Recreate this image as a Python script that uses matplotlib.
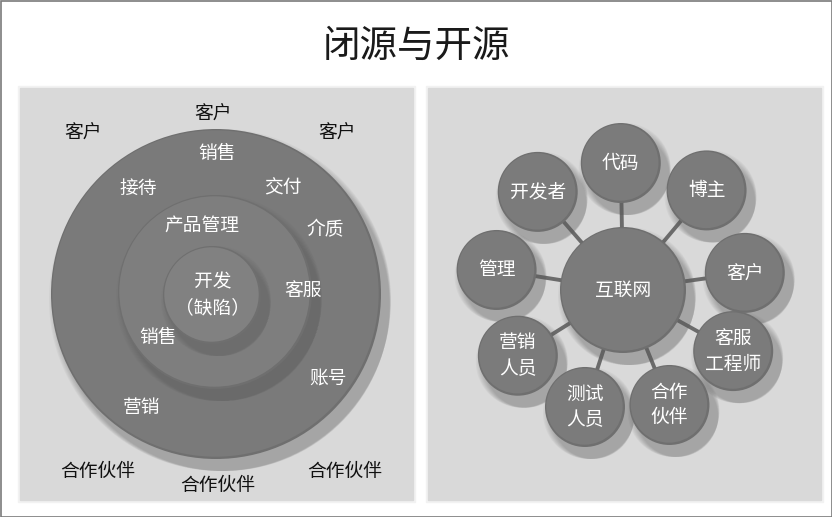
import numpy as np
import matplotlib.pyplot as plt
from matplotlib.patches import Circle, Rectangle

plt.rcParams['font.family'] = ['Noto Sans CJK SC', 'DejaVu Sans']

title = "闭源与开源"

# left diagram: rings (center x, center y, radius) in pixels
rings = [(216, 294, 165), (215, 292, 97), (212, 295, 49)]
outer_labels = ["客户", "客户", "客户", "合作伙伴", "合作伙伴", "合作伙伴"]
outer_pos = [(83, 132), (213, 113), (337, 132), (98, 472), (218, 485), (345, 472)]
ring_labels = ["销售", "接待", "交付", "产品管理", "介质", "开发\n（缺陷）",
               "客服", "销售", "账号", "营销"]
ring_pos = [(217, 153), (138, 188), (283, 188), (202, 225), (325, 230),
            (213, 295), (303, 290), (158, 337), (328, 378), (142, 408)]

# right diagram: hub and satellites
hub_label = "互联网"
sat_labels = ["代码", "博主", "客户", "客服\n工程师", "合作\n伙伴",
              "测试\n人员", "营销\n人员", "管理", "开发者"]
sat_angles = [91, 50, 8, -29, -68, -108, -148, 171, 131]
sat_dist = [127, 130, 123, 126, 124, 123, 124, 128, 130]

W, H = 832, 517
fig = plt.figure(figsize=(W / 100, H / 100), dpi=100)
ax = fig.add_axes([0, 0, 1, 1])
ax.set_xlim(0, W)
ax.set_ylim(H, 0)
ax.axis("off")

ax.add_patch(Rectangle((0.5, 0.5), W - 1, H - 1, fill=False, ec="#7a7a7a", lw=1.2))
ax.text(416, 46, title, fontsize=27, ha="center", va="center", color="#1a1a1a")

# panels
for x0 in (20, 428):
    ax.add_patch(Rectangle((x0 - 2, 86), 397, 416, color="#f2f2f2", zorder=1))
    ax.add_patch(Rectangle((x0, 88), 393, 412, color="#d9d9d9", zorder=1))


def ball(cx, cy, r, z, face="#7b7b7b", rim="#6f6f6f"):
    # soft shadow
    for k in range(8):
        ax.add_patch(Circle((cx + 4 + k * 0.6, cy + 6 + k * 0.8), r + 6 - k * 0.8,
                            color="#5a5a5a", alpha=0.06, lw=0, zorder=z))
    ax.add_patch(Circle((cx, cy), r, color=rim, lw=0, zorder=z + 0.1))
    ax.add_patch(Circle((cx - 0.5, cy - 0.5), r - 1.8, color=face, lw=0, zorder=z + 0.2))


for i, (cx, cy, r) in enumerate(rings):
    ball(cx, cy, r, 2 + i, face=["#7a7a7a", "#7e7e7e", "#818181"][i])

for s, (x, y) in zip(outer_labels, outer_pos):
    ax.text(x, y, s, fontsize=13.5, ha="center", va="center", color="#111111", zorder=10)
for s, (x, y) in zip(ring_labels, ring_pos):
    ax.text(x, y, s, fontsize=13.5, ha="center", va="center", color="white",
            zorder=10, linespacing=1.3)

hx, hy, hr = 623, 290, 63
sx = [hx + d * np.cos(np.radians(a)) for a, d in zip(sat_angles, sat_dist)]
sy = [hy - d * np.sin(np.radians(a)) for a, d in zip(sat_angles, sat_dist)]
for x, y in zip(sx, sy):
    ax.plot([hx, x], [hy, y], color="#6b6b6b", lw=2.8, zorder=2, solid_capstyle="butt")
for s, x, y in zip(sat_labels, sx, sy):
    ball(x, y, 40, 3)
    ax.text(x, y, s, fontsize=13.5, ha="center", va="center", color="white",
            zorder=10, linespacing=1.3)
ball(hx, hy, hr, 5)
ax.text(hx, hy, hub_label, fontsize=13.5, ha="center", va="center", color="white", zorder=10)

fig.savefig("out.png", dpi=100)
